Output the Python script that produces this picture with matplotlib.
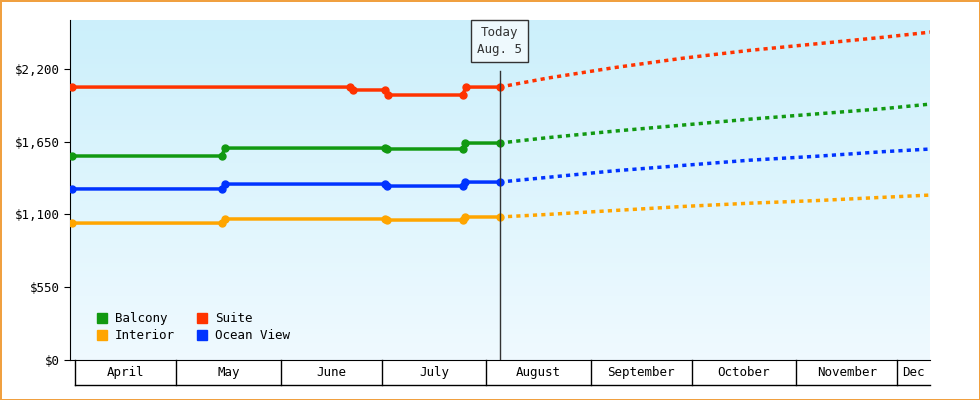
import matplotlib
matplotlib.use("Agg")
import matplotlib.pyplot as plt
import numpy as np
from matplotlib.transforms import blended_transform_factory
from matplotlib.lines import Line2D

plt.rcParams['font.family'] = ['DejaVu Sans Mono']

# day index: 0 = April 1
months = ["April", "May", "June", "July", "August", "September", "October", "November", "Dec"]
month_starts = [0, 30, 61, 91, 122, 153, 183, 214, 244]

hist_days = [-1, 43.5, 44.5, 92, 92.5, 115, 115.8, 126]
suite_days = [-1, 81.5, 82.5, 92, 93, 115, 116, 126]
suite_vals = [2063, 2063, 2041, 2041, 2003, 2003, 2063, 2063]
balcony_vals = [1542, 1542, 1602, 1602, 1595, 1595, 1640, 1640]
ocean_vals = [1293, 1293, 1330, 1330, 1315, 1315, 1345, 1345]
interior_vals = [1035, 1035, 1066, 1066, 1058, 1058, 1081, 1081]

fc_days = [126, 140, 160, 180, 200, 220, 240, 254]
suite_fc = [2063, 2130, 2210, 2280, 2340, 2390, 2440, 2479]
balcony_fc = [1640, 1680, 1730, 1775, 1820, 1860, 1900, 1935]
ocean_fc = [1345, 1380, 1430, 1470, 1510, 1540, 1575, 1595]
interior_fc = [1081, 1100, 1130, 1160, 1185, 1205, 1230, 1247]

yticks = [0, 550, 1100, 1650, 2200]
ytick_labels = ["$0", "$550", "$1,100", "$1,650", "$2,200"]
today_day = 126

colors = {"Balcony": "#119911", "Suite": "#ff3300", "Interior": "#ffa500", "Ocean View": "#0033ff"}

fig = plt.figure(figsize=(9.8, 4), dpi=100)
fig.patch.set_facecolor("white")
fig.patch.set_edgecolor("#f0a040")
fig.patch.set_linewidth(1)
ax = fig.add_axes([70/980, 40/400, 860/980, 340/400])
ax.set_xlim(-1.5, 253.7)
ax.set_ylim(0, 2570)

grad = np.linspace(0, 1, 256).reshape(-1, 1)
top = np.array([0.80, 0.94, 0.985]); bot = np.array([0.94, 0.98, 1.0])
img = bot + (top - bot) * grad
ax.imshow(img[::-1].reshape(256, 1, 3), extent=[0, 1, 0, 1], transform=ax.transAxes,
          aspect="auto", zorder=0, origin="upper")

series = [("Suite", suite_days, suite_vals, suite_fc),
          ("Balcony", hist_days, balcony_vals, balcony_fc),
          ("Ocean View", hist_days, ocean_vals, ocean_fc),
          ("Interior", hist_days, interior_vals, interior_fc)]
for name, d, v, fc in series:
    c = colors[name]
    ax.plot(d, v, color=c, lw=2.5, marker="o", ms=5, zorder=3, solid_capstyle="butt")
    ax.plot(fc_days, fc, color=c, lw=2.5, ls=(0, (1.2, 1.2)), zorder=3)

ax.axvline(today_day, color="#333333", lw=1, ymax=0.85, zorder=4)
ax.text(today_day, 0.938, "Today\nAug. 5", transform=blended_transform_factory(ax.transData, ax.transAxes),
        ha="center", va="center", fontsize=9, color="#333333", linespacing=1.4,
        bbox=dict(boxstyle="square,pad=0.5", fc="#eef9fd", ec="#333333", lw=1), zorder=5)

ax.set_yticks(yticks)
ax.set_yticklabels(ytick_labels, fontsize=9)
ax.set_xticks([])
for s in ["top", "right"]:
    ax.spines[s].set_visible(False)
ax.tick_params(axis="y", length=4, direction="out")

tr = blended_transform_factory(ax.transData, ax.transAxes)
bh = -25/340
bounds = month_starts + [253.7]
ax.plot([0, 253.7], [bh, bh], color="black", lw=1, transform=tr, clip_on=False)
for i, m in enumerate(months):
    ax.plot([bounds[i], bounds[i]], [0, bh], color="black", lw=1, transform=tr, clip_on=False)
    ax.text((bounds[i] + bounds[i+1]) / 2, bh/2, m, transform=tr, ha="center", va="center", fontsize=9)

order = ["Balcony", "Interior", "Suite", "Ocean View"]
handles = [Line2D([], [], color=colors[n], marker="s", ls="none", ms=7) for n in order]
ax.legend(handles, order, ncol=2, loc="lower left", bbox_to_anchor=(0.01, 0.02), frameon=False,
          fontsize=9, handletextpad=0.0, columnspacing=1.2, labelspacing=0.3)

fig.savefig("out.png", dpi=100)
